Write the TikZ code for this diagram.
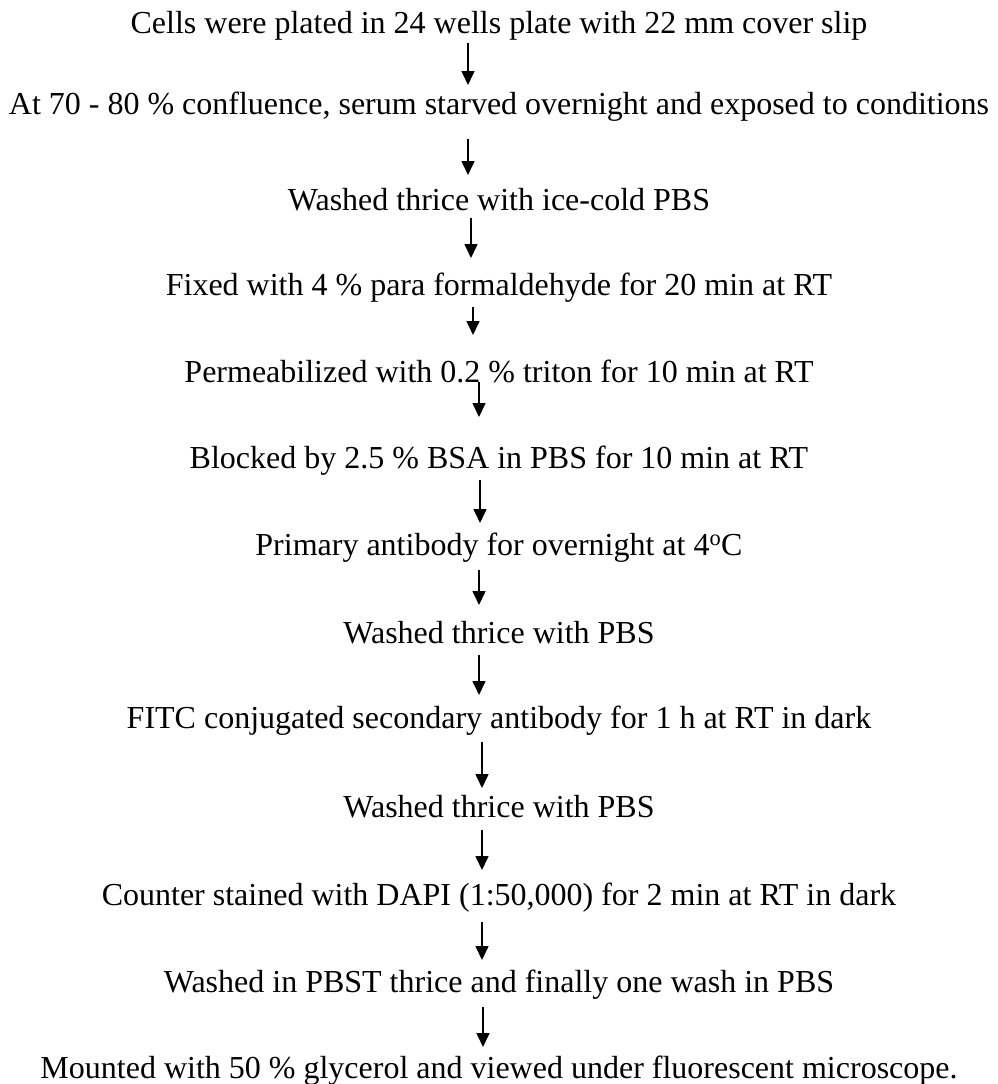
\documentclass[tikz,border=0pt]{standalone}
\usepackage{fontspec}
\setmainfont{Liberation Serif}
\usetikzlibrary{arrows.meta}
\tikzset{
	stage/.style={anchor=base, inner sep=0pt, font=\fontsize{32}{38}\selectfont},
	flow/.style={-{Triangle[width=13pt,length=14pt]}, line width=1.6pt}
}
\begin{document}
\begin{tikzpicture}[x=1pt, y=1pt]
		\useasboundingbox (0,0) rectangle (997,-1084);

		\node[stage] (s1)  at (499,-33)   {Cells were plated in 24 wells plate with 22 mm cover slip};
		\node[stage] (s2)  at (499,-114)  {At 70 - 80 \% confluence, serum starved overnight and exposed to conditions};
		\node[stage] (s3)  at (499,-210)  {Washed thrice with ice-cold PBS};
		\node[stage] (s4)  at (499,-295)  {Fixed with 4 \% para formaldehyde for 20 min at RT};
		\node[stage] (s5)  at (499,-382)  {Permeabilized with 0.2 \% triton for 10 min at RT};
		\node[stage] (s6)  at (499,-468)  {Blocked by 2.5 \% BSA in PBS for 10 min at RT};
		\node[stage] (s7)  at (499,-555)  {Primary antibody for overnight at 4\textsuperscript{o}C};
		\node[stage] (s8)  at (499,-643)  {Washed thrice with PBS};
		\node[stage] (s9)  at (499,-728)  {FITC conjugated secondary antibody for 1 h at RT in dark};
		\node[stage] (s10) at (499,-817)  {Washed thrice with PBS};
		\node[stage] (s11) at (499,-905)  {Counter stained with DAPI (1:50,000) for 2 min at RT in dark};
		\node[stage] (s12) at (499,-992)  {Washed in PBST thrice and finally one wash in PBS};
		\node[stage] (s13) at (499,-1078) {Mounted with 50 \% glycerol and viewed under fluorescent microscope.};

		% arrows: from/to/x offset/gap below/gap above
		\foreach \i/\j/\dx/\ga/\gb in {1/2/-31/10/29, 2/3/-31/25/35, 3/4/-28/8/37, 4/5/-26/12/47,
				5/6/-20/0/51, 6/7/-19/12/32, 7/8/-20/15/38, 8/9/-20/12/33,
				9/10/-17/14/29, 10/11/-17/13/35, 11/12/-17/17/32, 12/13/-16/15/31} {
			\draw[flow] ([shift={(\dx,-\ga)}]s\i.base) -- ([shift={(\dx,\gb)}]s\j.base);
		}
	\end{tikzpicture}
\end{document}
